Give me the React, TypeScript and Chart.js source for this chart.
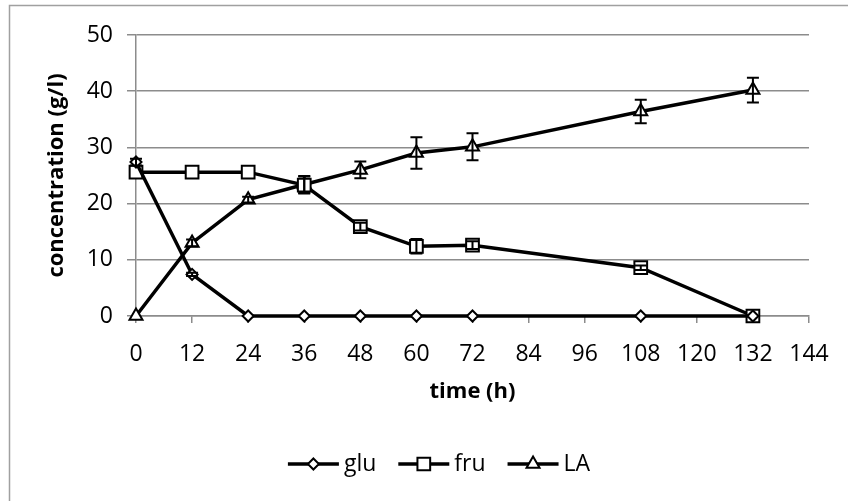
import React, { useEffect, useRef } from 'react';
import { Chart, registerables } from 'chart.js';

Chart.register(...registerables);

const hours = [0, 12, 24, 36, 48, 60, 72, 108, 132];
const gluValues = [27.4, 7.4, 0, 0, 0, 0, 0, 0, 0];
const gluErrors = [0.6, 0.3, 0, 0, 0, 0, 0, 0, 0];
const fruValues = [25.6, 25.6, 25.6, 23.3, 15.9, 12.4, 12.6, 8.6, 0];
const fruErrors = [0, 0, 0, 1.5, 0.7, 1.3, 0.7, 0.4, 0];
const laValues = [0, 13.0, 20.7, 23.4, 26.0, 29.0, 30.1, 36.4, 40.2];
const laErrors = [0, 0.6, 0.5, 1.5, 1.5, 2.8, 2.4, 2.1, 2.2];
const seriesNames = ['glu', 'fru', 'LA'];
const xTitle = 'time (h)';
const yTitle = 'concentration (g/l)';

const FONT = '"Open Sans", sans-serif';
const GRID = '#8c8c8c';

const errorSets = [gluErrors, fruErrors, laErrors];

const errorBarPlugin = {
  id: 'errorBars',
  afterDatasetsDraw(chart: any) {
    const ctx = chart.ctx;
    const xs = chart.scales.x;
    const ys = chart.scales.y;
    ctx.save();
    ctx.strokeStyle = '#000';
    ctx.lineWidth = 2;
    chart.data.datasets.forEach((ds: any, i: number) => {
      const errs = errorSets[i];
      ds.data.forEach((pt: any, j: number) => {
        const e = errs[j];
        if (!e) return;
        const x = xs.getPixelForValue(pt.x);
        const yTop = ys.getPixelForValue(pt.y + e);
        const yBot = ys.getPixelForValue(pt.y - e);
        ctx.beginPath();
        ctx.moveTo(x, yTop);
        ctx.lineTo(x, yBot);
        ctx.moveTo(x - 6, yTop);
        ctx.lineTo(x + 6, yTop);
        ctx.moveTo(x - 6, yBot);
        ctx.lineTo(x + 6, yBot);
        ctx.stroke();
      });
    });
    ctx.restore();
  },
};

const frameAndLegendPlugin = {
  id: 'frameLegend',
  afterDraw(chart: any) {
    const ctx = chart.ctx;
    ctx.save();
    // outer frame
    ctx.strokeStyle = '#a0a0a0';
    ctx.lineWidth = 1.5;
    ctx.beginPath();
    ctx.moveTo(9.5, 501);
    ctx.lineTo(9.5, 5.5);
    ctx.lineTo(848, 5.5);
    ctx.stroke();

    // legend
    ctx.font = '23px ' + FONT;
    ctx.textBaseline = 'middle';
    ctx.textAlign = 'left';
    const y = 464;
    const lineLen = 51;
    const gapText = 5;
    const gapItem = 22;
    let total = 0;
    chart.data.datasets.forEach((ds: any, i: number) => {
      total += lineLen + gapText + ctx.measureText(ds.label).width;
      if (i < chart.data.datasets.length - 1) total += gapItem;
    });
    let x = 439 - total / 2;
    chart.data.datasets.forEach((ds: any) => {
      ctx.strokeStyle = '#000';
      ctx.lineWidth = 3.5;
      ctx.beginPath();
      ctx.moveTo(x, y);
      ctx.lineTo(x + lineLen, y);
      ctx.stroke();
      const cx = x + lineLen / 2;
      ctx.fillStyle = '#fff';
      ctx.lineWidth = 2;
      ctx.beginPath();
      const r = ds.pointRadius;
      if (ds.pointStyle === 'rectRot') {
        ctx.moveTo(cx, y - r);
        ctx.lineTo(cx + r, y);
        ctx.lineTo(cx, y + r);
        ctx.lineTo(cx - r, y);
        ctx.closePath();
      } else if (ds.pointStyle === 'rect') {
        const s = r * Math.SQRT1_2;
        ctx.rect(cx - s, y - s, 2 * s, 2 * s);
      } else {
        const h = r * 1.5;
        const w = r * Math.sqrt(3) / 2;
        ctx.moveTo(cx, y - r);
        ctx.lineTo(cx + w, y - r + h);
        ctx.lineTo(cx - w, y - r + h);
        ctx.closePath();
      }
      ctx.fill();
      ctx.stroke();
      ctx.fillStyle = '#000';
      ctx.fillText(ds.label, x + lineLen + gapText, y);
      x += lineLen + gapText + ctx.measureText(ds.label).width + gapItem;
    });
    ctx.restore();
  },
};

function makeDataset(label: string, values: number[], style: string, radius: number) {
  return {
    label,
    data: hours.map((h, i) => ({ x: h, y: values[i] })),
    borderColor: '#000',
    borderWidth: 3.5,
    pointStyle: style,
    pointRadius: radius,
    pointHoverRadius: radius,
    pointBackgroundColor: '#fff',
    pointBorderColor: '#000',
    pointBorderWidth: 2,
    tension: 0,
    fill: false,
    clip: false,
  };
}

export default function App() {
  const ref = useRef<HTMLCanvasElement | null>(null);
  useEffect(() => {
    if (!ref.current) return;
    const chart = new Chart(ref.current, {
      type: 'line',
      data: {
        datasets: [
          makeDataset(seriesNames[0], gluValues, 'rectRot', 5.5),
          makeDataset(seriesNames[1], fruValues, 'rect', 9),
          makeDataset(seriesNames[2], laValues, 'triangle', 7.5),
        ] as any,
      },
      options: {
        animation: false,
        responsive: false,
        devicePixelRatio: 1,
        layout: { padding: { top: 35, right: 39, left: 10, bottom: 0 } },
        plugins: { legend: { display: false }, tooltip: { enabled: false } },
        scales: {
          x: {
            type: 'linear',
            min: 0,
            max: 144,
            ticks: { stepSize: 12, color: '#000', font: { family: FONT, size: 23 }, padding: 18, maxRotation: 0 },
            grid: { drawOnChartArea: false, drawTicks: true, tickLength: 7, color: GRID, lineWidth: 1.5 },
            border: { display: true, color: GRID, width: 1.5 },
            title: {
              display: true,
              text: xTitle,
              color: '#000',
              font: { family: FONT, size: 22, weight: 'bold' },
              padding: { top: 0, bottom: 96 },
            },
            afterFit(scale: any) { scale.height = 185; },
          },
          y: {
            min: 0,
            max: 50,
            ticks: { stepSize: 10, color: '#000', font: { family: FONT, size: 23 }, padding: 14 },
            grid: { drawTicks: true, tickLength: 9, color: GRID, lineWidth: 1.5 },
            border: { display: true, color: GRID, width: 1.5 },
            title: {
              display: true,
              text: yTitle,
              color: '#000',
              font: { family: FONT, size: 22, weight: 'bold' },
              padding: { top: 34, bottom: 0 },
            },
            afterFit(scale: any) { scale.width = 126; },
          },
        },
      } as any,
      plugins: [errorBarPlugin, frameAndLegendPlugin],
    });
    return () => chart.destroy();
  }, []);
  return (
    <div style={{ position: 'absolute', left: 0, top: 0, width: 848, height: 501, background: '#fff' }}>
      <canvas ref={ref} width={848} height={501} style={{ width: 848, height: 501, display: 'block' }} />
    </div>
  );
}
